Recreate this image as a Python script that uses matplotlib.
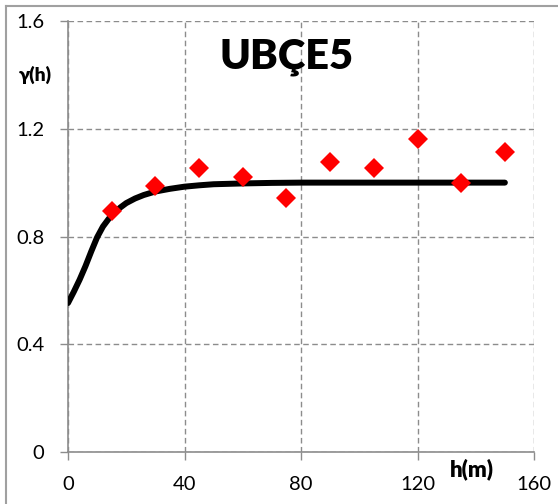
import matplotlib
matplotlib.use('Agg')
import matplotlib.pyplot as plt
from matplotlib.lines import Line2D

plt.rcParams['font.family'] = ['Lato', 'DejaVu Sans']

# experimental semivariogram
lag = [15, 30, 45, 60, 75, 90, 105, 120, 135, 150]
gamma = [0.895, 0.988, 1.054, 1.021, 0.943, 1.077, 1.054, 1.162, 0.999, 1.114]

# fitted model curve
h_model = [0, 2, 4, 6, 8, 10, 12, 14, 16, 18, 20, 23, 26, 30, 35, 40, 45, 50,
           60, 70, 80, 100, 120, 150]
g_model = [0.553, 0.595, 0.640, 0.690, 0.745, 0.797, 0.837, 0.866, 0.889,
           0.908, 0.924, 0.941, 0.954, 0.967, 0.977, 0.985, 0.990, 0.994,
           0.997, 0.999, 1.0, 1.0, 1.0, 1.0]

xticks = [0, 40, 80, 120, 160]
yticks = [0, 0.4, 0.8, 1.2, 1.6]
ytick_labels = ['0', '0.4', '0.8', '1.2', '1.6']

gray = '#8c8c8c'

fig = plt.figure(figsize=(5.58, 5.04), dpi=100)
ax = fig.add_axes([68/558, 1 - 452/504, (534 - 68)/558, (452 - 21)/504])

ax.plot(h_model, g_model, color='black', lw=4.3, solid_capstyle='round',
        solid_joinstyle='round', zorder=3)
ax.plot(lag, gamma, linestyle='none', marker='D', ms=10, color='#ff0000',
        markeredgewidth=0, zorder=4)

ax.set_xlim(0, 160)
ax.set_ylim(0, 1.6)
ax.set_xticks(xticks)
ax.set_yticks(yticks)
ax.set_yticklabels(ytick_labels)
ax.tick_params(axis='both', direction='out', length=6, width=1, color=gray,
               labelsize=14.5, pad=11)

ax.grid(True, color=gray, linestyle=(0, (4, 2.5)), linewidth=1)
ax.set_axisbelow(True)
for s in ['top', 'right']:
    ax.spines[s].set_visible(False)
for s in ['left', 'bottom']:
    ax.spines[s].set_color(gray)
    ax.spines[s].set_linewidth(1.2)

ax.text(75.2, 1.466, 'UBÇE5', fontsize=30, fontweight='heavy',
        ha='center', va='center')
fig.text(35/558, 1 - 75/504, 'γ(h)', fontsize=14, fontweight='heavy',
         ha='center', va='center')
fig.text(472/558, 1 - 469/504, 'h(m)', fontsize=16, fontweight='heavy',
         ha='center', va='center')

# chart frame
fig.add_artist(Line2D([5.5/558, 5.5/558], [0, 1 - 5.5/504], color='#a0a0a0',
                      lw=1.5, transform=fig.transFigure))
fig.add_artist(Line2D([5.5/558, 1], [1 - 5.5/504, 1 - 5.5/504], color='#a0a0a0',
                      lw=1.5, transform=fig.transFigure))

fig.savefig('out.png', dpi=100)
